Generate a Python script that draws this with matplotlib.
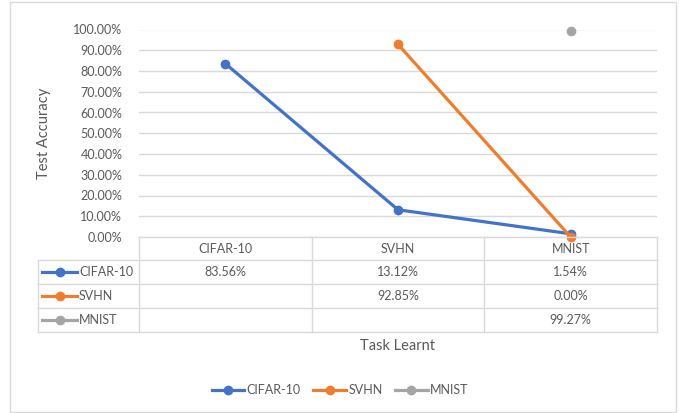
import numpy as np
import matplotlib.pyplot as plt
from matplotlib.lines import Line2D
from matplotlib.patches import Rectangle

# ===========================
# data
# ===========================

tasks = ["CIFAR-10", "SVHN", "MNIST"]

cifar10_acc = [83.56, 13.12, 1.54]
svhn_acc = [np.nan, 92.85, 0.00]
mnist_acc = [np.nan, np.nan, 99.27]

series_names = ["CIFAR-10", "SVHN", "MNIST"]
series_values = [cifar10_acc, svhn_acc, mnist_acc]
series_colors = ["#4472C4", "#ED7D31", "#A5A5A5"]

yticks = np.arange(0, 101, 10)

W, H = 683, 413
TXT = "#595959"
GRID = "#D9D9D9"

plt.rcParams["font.family"] = ["Lato", "DejaVu Sans"]

fig = plt.figure(figsize=(W / 100, H / 100), dpi=100)


def fx(px):
    return px / W


def fy(py):
    return 1 - py / H


# outer chart border
fig.add_artist(Rectangle((fx(10), fy(412)), fx(666), 410 / H,
                         transform=fig.transFigure, fill=False,
                         edgecolor=GRID, linewidth=1))

left, right, top, bottom = 139, 657, 29.5, 237
ax = fig.add_axes([fx(left), fy(bottom), fx(right - left), (bottom - top) / H])

x = np.arange(len(tasks))
for name, vals, color in zip(series_names, series_values, series_colors):
    ax.plot(x, vals, color=color, linewidth=2.3, marker="o",
            markersize=6, label=name, zorder=3, clip_on=False)

ax.set_xlim(-0.5, len(tasks) - 0.5)
ax.set_ylim(0, 100)
ax.set_yticks(yticks)
ax.set_yticklabels([f"{v:.2f}%" for v in yticks], color=TXT, fontsize=9)
ax.tick_params(axis="y", length=0, pad=12)
ax.set_xticks([])
ax.grid(axis="y", color=GRID, linewidth=1)
ax.set_axisbelow(True)
for s in ax.spines.values():
    s.set_visible(False)

ax.set_ylabel("Test Accuracy", color=TXT, fontsize=10.5, labelpad=16)

# ===========================
# data table under the axis
# ===========================

row_px = [237, 260.3, 284.3, 308.3, 332]
key_left = 38.3

# horizontal lines
fig.add_artist(Line2D([fx(left), fx(right)], [fy(row_px[0])] * 2,
                      color=GRID, linewidth=1))
for r in row_px[1:]:
    fig.add_artist(Line2D([fx(key_left), fx(right)], [fy(r)] * 2,
                          color=GRID, linewidth=1))

# vertical lines
col_w = (right - left) / len(tasks)
for i in range(len(tasks) + 1):
    xp = left + i * col_w
    fig.add_artist(Line2D([fx(xp)] * 2, [fy(row_px[0]), fy(row_px[-1])],
                          color=GRID, linewidth=1))
fig.add_artist(Line2D([fx(key_left)] * 2, [fy(row_px[1]), fy(row_px[-1])],
                      color=GRID, linewidth=1))

# header
for i, t in enumerate(tasks):
    fig.text(fx(left + (i + 0.5) * col_w), fy((row_px[0] + row_px[1]) / 2), t,
             ha="center", va="center", color=TXT, fontsize=9)

# rows with legend keys
for j, (name, vals, color) in enumerate(zip(series_names, series_values, series_colors)):
    yc = fy((row_px[j + 1] + row_px[j + 2]) / 2)
    fig.add_artist(Line2D([fx(42), fx(77)], [yc, yc], color=color,
                          linewidth=2.3))
    fig.add_artist(Line2D([fx(59.5)], [yc], color=color, marker="o",
                          markersize=6, linestyle="none"))
    fig.text(fx(79), yc, name, ha="left", va="center", color=TXT, fontsize=9)
    for i, v in enumerate(vals):
        if not np.isnan(v):
            fig.text(fx(left + (i + 0.5) * col_w), yc, f"{v:.2f}%",
                     ha="center", va="center", color=TXT, fontsize=9)

fig.text(fx(left + 1.5 * col_w), fy(346), "Task Learnt", ha="center",
         va="center", color=TXT, fontsize=10.5)

# legend
handles, labels = ax.get_legend_handles_labels()
fig.legend(handles, labels, loc="center", bbox_to_anchor=(fx(340), fy(390)),
           ncol=3, frameon=False, fontsize=9, labelcolor=TXT,
           handlelength=2.6, handletextpad=0.2, columnspacing=1.0)

plt.savefig("out.png", dpi=100)
